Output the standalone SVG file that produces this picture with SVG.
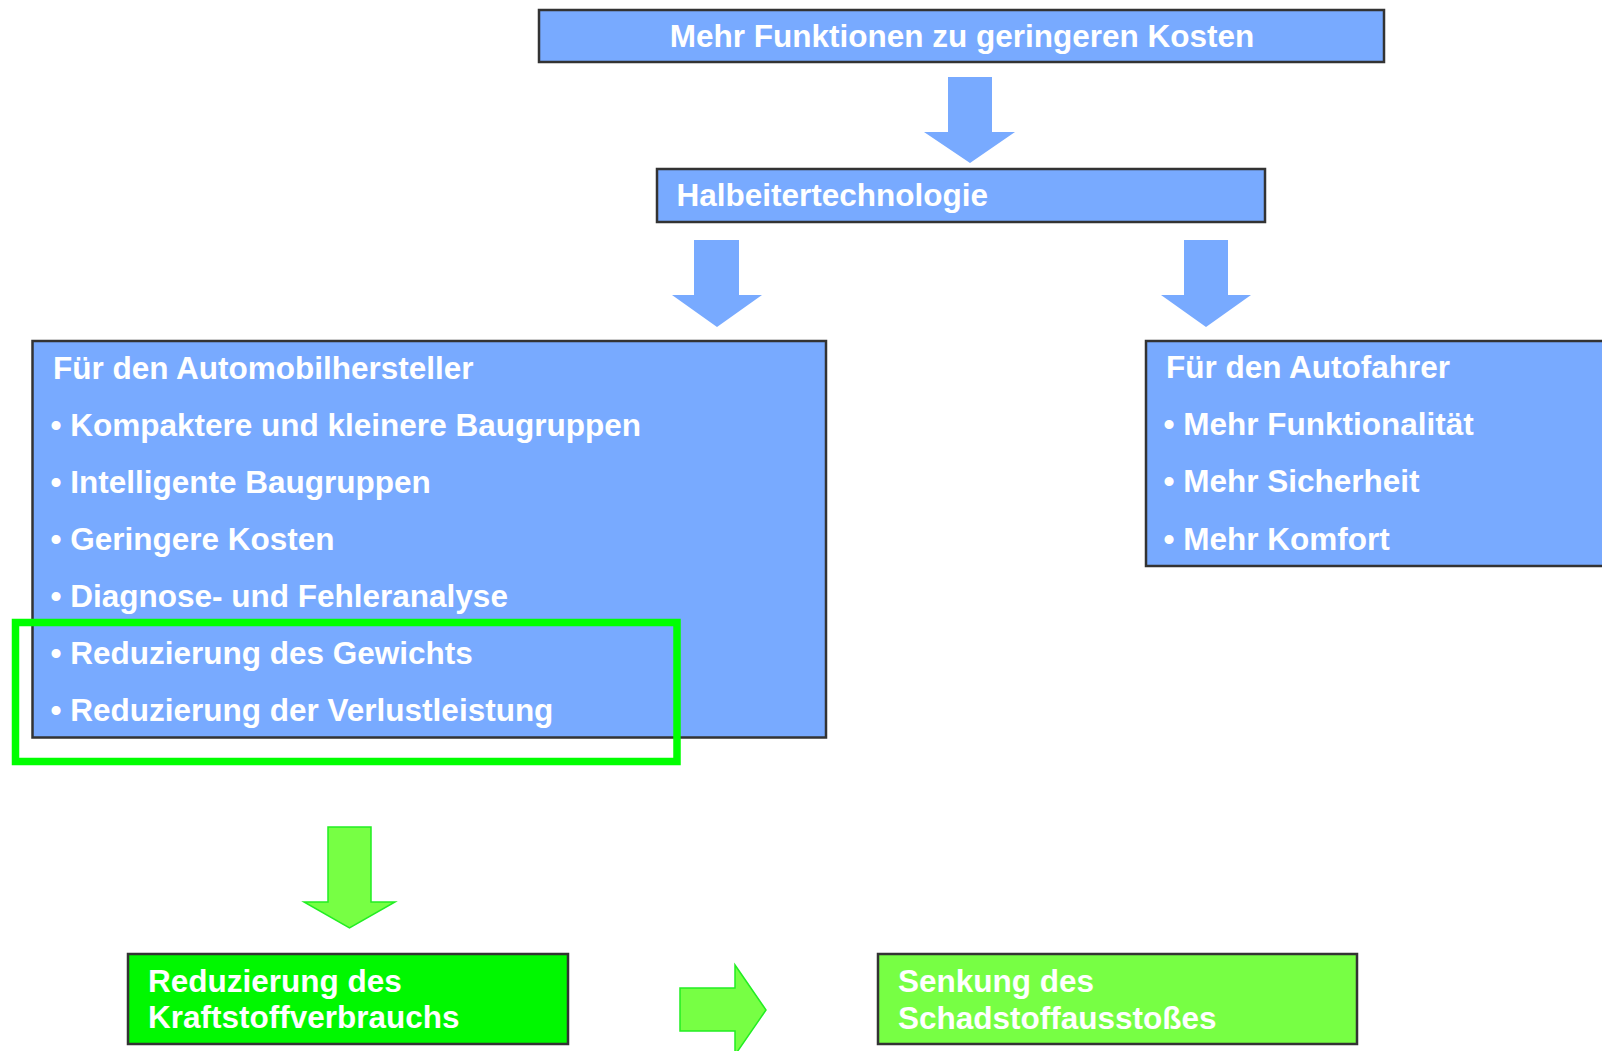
<svg xmlns="http://www.w3.org/2000/svg" width="1602" height="1051" viewBox="0 0 1602 1051">
<style>
.box{fill:#78AAFF;stroke:#333;stroke-width:2.5}
.gbox{fill:#00F800;stroke:#333;stroke-width:2.5}
.lgbox{fill:#77FF44;stroke:#333;stroke-width:2.5}
.arr{fill:#78AAFF;stroke:none}
.garr{fill:#77FF44;stroke:#22EE22;stroke-width:1.5}
.t{font-family:"Liberation Sans",Arial,sans-serif;font-weight:bold;font-size:31.5px;fill:#fff}
</style>
<rect width="1602" height="1051" fill="#fff"/>
<g id="connectors">
<polygon class="arr" points="948,77 992,77 992,132 1015,132 970,163 924,132 948,132"/>
<polygon class="arr" points="694,240 739,240 739,295 762,295 717,327 672,295 694,295"/>
<polygon class="arr" points="1184,240 1228,240 1228,295 1251,295 1206,327 1161,295 1184,295"/>
<polygon class="garr" points="328,827 371,827 371,902 395,902 349.5,928 304,902 328,902"/>
<polygon class="garr" points="680,988 735,988 735,965 766,1010 735,1055 735,1031 680,1031"/>
</g>
<g id="n_top">
<rect class="box" x="539" y="10" width="845" height="52"/>
<text class="t" x="962" y="47" text-anchor="middle">Mehr Funktionen zu geringeren Kosten</text>
</g>
<g id="n_halbleiter">
<rect class="box" x="657" y="169" width="608" height="53"/>
<text class="t" x="676.5" y="205.5">Halbeitertechnologie</text>
</g>
<g id="n_hersteller">
<rect class="box" x="32.5" y="341" width="793.5" height="396.5"/>
<text class="t" x="53" y="378.8">Für den Automobilhersteller</text>
<text class="t" x="50.5" y="436.3">• Kompaktere und kleinere Baugruppen</text>
<text class="t" x="50.5" y="493.3">• Intelligente Baugruppen</text>
<text class="t" x="50.5" y="550.3">• Geringere Kosten</text>
<text class="t" x="50.5" y="607.3">• Diagnose- und Fehleranalyse</text>
<text class="t" x="50.5" y="664.3">• Reduzierung des Gewichts</text>
<text class="t" x="50.5" y="721.3">• Reduzierung der Verlustleistung</text>
</g>
<g id="n_fahrer">
<rect class="box" x="1146" y="341" width="500" height="225"/>
<text class="t" x="1166" y="378">Für den Autofahrer</text>
<text class="t" x="1163.5" y="434.7">• Mehr Funktionalität</text>
<text class="t" x="1163.5" y="492.2">• Mehr Sicherheit</text>
<text class="t" x="1163.5" y="549.7">• Mehr Komfort</text>
</g>
<g id="highlight">
<rect x="15.5" y="622.5" width="661.5" height="139" fill="none" stroke="#00FF00" stroke-width="7.5"/>
</g>
<g id="n_kraftstoff">
<rect class="gbox" x="128" y="954" width="440" height="90"/>
<text class="t" x="148" y="992.2">Reduzierung des</text>
<text class="t" x="148" y="1027.8">Kraftstoffverbrauchs</text>
</g>
<g id="n_schadstoff">
<rect class="lgbox" x="878" y="954" width="479" height="90"/>
<text class="t" x="898" y="992.2">Senkung des</text>
<text class="t" x="898" y="1028.8">Schadstoffausstoßes</text>
</g>
</svg>
